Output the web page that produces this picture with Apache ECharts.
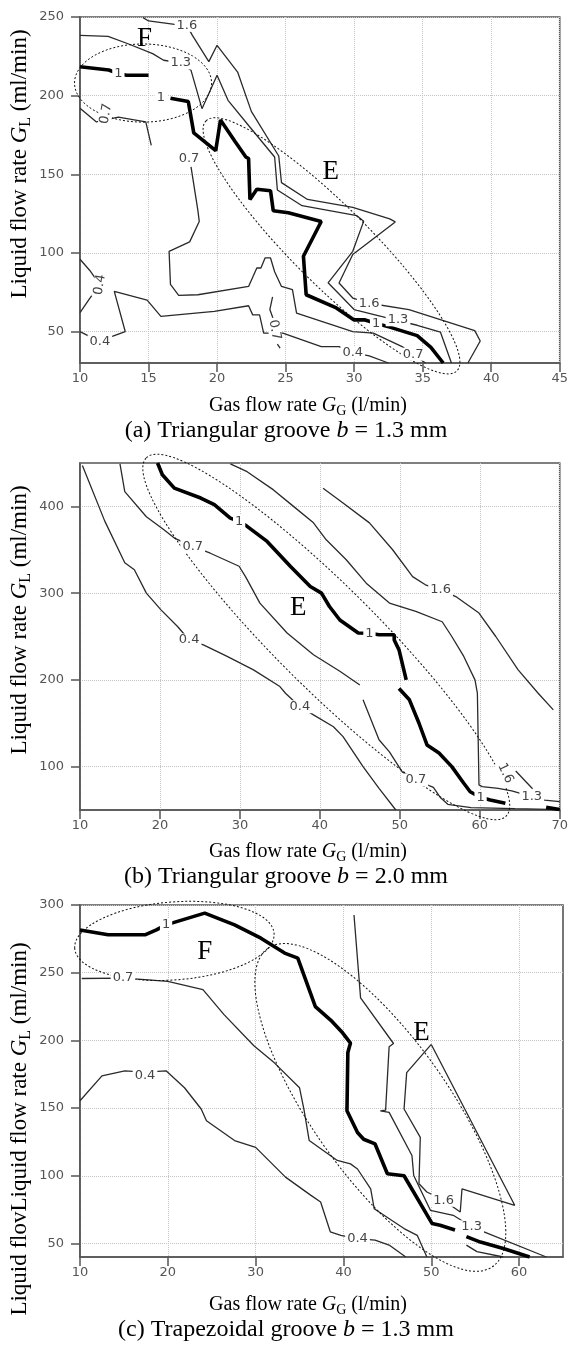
<!DOCTYPE html>
<html lang="en">
  <head>
    <meta charset="UTF-8" />
    <title>Contour maps</title>
    <script src="https://cdn.jsdelivr.net/npm/echarts@6/dist/echarts.min.js"></script>
    <style>
      html, body { margin: 0; padding: 0; background: #fff; }
      #main { width: 571px; height: 1345px; }
    </style>
  </head>
  <body>
    <div id="main"></div>
    <script type="text/javascript">
      // ---------- (a) Triangular groove b = 1.3 mm ----------
      var aXTicks = [10, 15, 20, 25, 30, 35, 40, 45];
      var aYTicks = [50, 100, 150, 200, 250];
      var aC04 = [
        [[10,96],[10.7,89],[11.45,79.8],[10.7,71],[10,62]],
        [[10,50],[11.45,43.6],[12.3,46.8],[13.3,50],[12.5,75.5],[14.9,70],[15.9,59.6],[19.8,62.8],[22.3,66.4],[22.6,60.6],[23.1,60.6],[23.4,49],[24.8,49],[27.6,40.4],[28.9,40.4],[29.9,36.6],[31.1,34.5],[32.5,30]]
      ];
      var aC07 = [
        [[10,192],[11.2,183.3],[12.8,186.4],[14.8,183.3],[15.2,168.4]],
        [[18.1,154.7],[18.6,127],[18.7,120],[18,107],[16.5,101],[16.6,80],[17.2,73],[18.6,73.4],[22.3,78.7],[22.9,90.4],[23.2,90.4],[23.5,96.8],[23.9,96.8],[24.2,88],[24.7,78.7],[25.5,76.6],[25.8,61.7],[29.9,50],[31.4,49],[33.5,40.4],[34.3,35.6],[35.2,30]],
        [[24.05,72],[23.85,64],[24.1,58]],
        [[24.4,42],[24.6,39.5]]
      ];
      var aC10 = [
        [[10,218.4],[12.1,216.3],[12.8,214],[13.4,213],[15,213]],
        [[16.6,198.4],[17.9,196.3],[18.3,176.3],[19.9,165],[20.25,184.5],[21.3,171],[22.1,161],[22.3,160],[22.4,134],[22.9,140.5],[23.9,139.5],[24.1,126.8],[25.2,125.5],[27.6,120],[26.3,97.9],[26.5,73.4],[28.7,65],[30,57.4],[30.8,57.4],[31.7,55],[32.6,52.8],[34.6,47.4],[35.6,40],[36.5,30]]
      ];
      var aC13 = [
        [[10,238.3],[12.05,237.7],[13.5,233],[15.3,226.7],[16.1,222.5],[17.35,220.8],[18.1,216.1],[18.9,191.7],[20,212.9],[20.8,197],[22.3,181],[24.2,161],[24.4,140],[26.2,130],[30.2,123.7],[30.7,120.2],[29.9,101],[28.1,81],[30,64],[33.2,57],[34.6,54],[36.3,49.6],[37.1,30]]
      ];
      var aC16 = [
        [[14.6,249.6],[15,247.5],[16.9,245.3],[17.8,244.7],[18.2,238.3],[19.4,221.6],[20,232],[21.5,215],[22.5,190],[24.5,161.6],[24.7,144.7],[26.6,134],[29.9,129],[32.6,121.6],[33,119.7],[29.9,99],[28.9,80.9],[29.9,71.3],[31.1,68],[34,64],[38.8,50.6],[39.2,44],[38.3,30]]
      ];
      // [text, x, y, rotation in degrees]
      var aLabels = [
        ['1.6',17.8,244.7,0], ['1.3',17.35,220.8,0], ['1',12.8,214,0], ['1',15.9,198.7,0],
        ['0.7',11.9,188.5,80], ['0.7',17.95,160,0], ['0.4',11.45,79.8,80], ['0.4',11.45,43.6,0],
        ['0.7',24.2,51,-80], ['0.4',29.9,36.6,0], ['1.6',31.1,68,0], ['1.3',33.2,57.5,0],
        ['1',31.6,55,0], ['0.7',34.3,35.6,0]
      ];
      var aLetters = [['F',14.7,236], ['E',28.3,151.5]];
      // [x1, y1, x2, y2, minor/major]
      var aEllipses = [[9.6,208,19.6,208,0.57], [19.2,184,37.5,25,0.22]];

      // ---------- (b) Triangular groove b = 2.0 mm ----------
      var bXTicks = [10, 20, 30, 40, 50, 60, 70];
      var bYTicks = [100, 200, 300, 400];
      var bC04 = [
        [[10.3,447],[13.1,383],[15.6,335],[16.8,327],[18.3,300],[20.1,281],[22.2,261.5],[23.65,246],[25.5,240],[28.4,227],[31.7,211.5],[35,192.3],[35.7,184.6],[37.5,169],[39.2,159.6],[41.7,146],[42.9,134.6],[45.4,100],[47.4,75],[49.5,50]]
      ];
      var bC07 = [
        [[15,449],[15.6,417],[18.3,388],[20.5,373],[21.8,363.5],[24.1,353.8],[26.3,346],[29.9,331],[30.7,319],[32.5,288.5],[35.9,254],[39.2,229],[42.5,210],[45,194]],
        [[45.4,177],[47.4,131],[48.7,117],[50.3,94],[52,84.6],[54.2,76],[55.1,64],[56,56.6],[58.9,52.7],[64.4,51.5],[70,50.5]]
      ];
      var bC10 = [
        [[19.7,450],[20.3,436.5],[21.8,421],[25.1,409.6],[26.8,402],[28.8,386.5],[29.9,382.7],[30.9,377],[33.4,359.6],[36.3,331],[38.8,307.7],[40.2,300],[41.2,284.6],[42.5,269],[44.8,254],[46.2,253.8],[47.4,252],[49.3,252],[49.3,246],[49.9,234.6],[50.8,200]],
        [[49.9,190],[51.2,177],[52.4,150],[53.4,125],[54.9,115.6],[56.5,100],[58,80.8],[58.8,71],[60.1,64.6],[61.3,61.5],[63.2,57.7]],
        [[68.3,53],[70,50.5]]
      ];
      var bC13 = [
        [[28.8,449],[30.9,440],[34.2,419],[36.7,400],[39.2,381],[40.8,361.5],[43.3,338.5],[45.8,311.5],[48.7,288.5],[52,279],[55.3,267],[56.5,250],[58,227],[59.4,200],[59.7,184.6],[59.9,79],[60.3,77],[62.3,75],[64,72],[66.5,65.4],[68.1,61.5],[70,59.6]]
      ];
      var bC16 = [
        [[40.4,421],[42.9,404],[46.2,381],[49.1,350],[51.6,319],[53.2,309.6],[55.1,303.8],[57,296],[59.9,277],[62,250],[64.8,211.5],[67.3,184.6],[69.2,165.4]],
        [[64.5,95],[66.6,74.5]]
      ];
      var bLabels = [
        ['1',29.9,382.7,0], ['0.7',24.1,353.8,0], ['1.6',55.1,303.8,0], ['0.4',23.65,246,0],
        ['1',46.2,253.8,0], ['0.4',37.5,169,0], ['0.7',52,84.6,0], ['1.6',63.2,92.3,-65],
        ['1',60.1,64.6,0], ['1.3',66.5,65.4,0]
      ];
      var bLetters = [['E',37.3,283]];
      var bEllipses = [[18.3,456,63.3,43,0.2]];

      // ---------- (c) Trapezoidal groove b = 1.3 mm ----------
      var cXTicks = [10, 20, 30, 40, 50, 60];
      var cYTicks = [50, 100, 150, 200, 250, 300];
      var cC04 = [
        [[10,155.4],[12.5,173.8],[15.1,177.5],[17.4,176.5],[19.8,177.5],[21.9,165],[23.8,149.3],[24.4,140.7],[27.6,126],[30,121],[33.4,99],[36.3,85.5],[37.4,80.6],[38.5,58.6],[39.7,56],[41.6,53.6],[43.6,52.5],[45.2,48.8],[47.1,40]]
      ];
      var cC07 = [
        [[10.2,245.7],[14.9,246],[16.6,245.3],[20,243.6],[24,237.5],[26.4,219],[29.8,196],[32.1,183.6],[35,165],[35.5,149],[36.1,126],[39.3,111.3],[40.8,108.8],[41.6,105],[43.1,90.4],[43.5,75.7],[46.9,61],[48.4,56],[49.5,40]],
        [[54,48.8],[55.2,44],[58.2,40]]
      ];
      var cC10 = [
        [[10,281.6],[13.2,278],[17.4,278],[18.7,281.6],[19.8,285.3],[21,287.7],[24.2,294],[27.6,285.3],[30.6,275.5],[33.3,264.5],[34.8,260.8],[36.8,225],[38.7,214],[39.9,205.6],[40.8,198],[40.5,191],[40.4,148],[41.6,132],[42.3,127],[43.6,123.5],[45,101.5],[46.9,100],[50.1,64.7],[51,63.5],[52.7,60]],
        [[54,55],[55.6,51],[58.2,46.3],[61.2,40]]
      ];
      var cC13 = [
        [[41.2,292.6],[41.95,231.4],[45.7,197.7],[45.2,195.3],[44.8,148.5],[44.2,148],[45.2,146.8],[47.8,115],[48,100.2],[49.9,74.5],[52.5,70.8],[54.6,62.3],[56,58.6],[63.1,40]]
      ];
      var cC16 = [
        [[50,197],[59.5,78.2],[53.5,90.4],[53.3,73.3],[51.4,81.9],[49.5,88],[48.6,94.1],[48.75,128.4],[46.9,149.3],[47.2,176.2],[50,197]]
      ];
      var cLabels = [
        ['1',19.8,285.3,0], ['0.7',14.9,246,0], ['0.4',17.4,174.3,0], ['1.6',51.4,81.9,0],
        ['1.3',54.6,62.3,0], ['0.4',41.6,53.6,0]
      ];
      var cLetters = [['F',24.2,265.7], ['E',48.9,205.6]];
      var cEllipses = [[9.4,268,32.1,279,0.39], [31.4,268,57,33,0.35]];

      var panels = [
        { x: [10, 45], y: [30, 250], xt: aXTicks, yt: aYTicks, levels: [aC04, aC07, aC10, aC13, aC16], labels: aLabels, letters: aLetters, ellipses: aEllipses },
        { x: [10, 70], y: [50, 450], xt: bXTicks, yt: bYTicks, levels: [bC04, bC07, bC10, bC13, bC16], labels: bLabels, letters: bLetters, ellipses: bEllipses },
        { x: [10, 65], y: [40, 300], xt: cXTicks, yt: cYTicks, levels: [cC04, cC07, cC10, cC13, cC16], labels: cLabels, letters: cLetters, ellipses: cEllipses }
      ];

      var gridBoxes = [
        { top: 17, height: 346 },
        { top: 463, height: 347 },
        { top: 905, height: 352 }
      ];

      var tickFont = { color: "#555", fontSize: 13, fontFamily: "DejaVu Sans" };
      var frameColor = "#555";

      function axis(gi, range, ticks, isX) {
        return {
          type: "value",
          gridIndex: gi,
          min: range[0],
          max: range[1],
          axisLine: { show: true, onZero: false, lineStyle: { color: frameColor, width: 1.6 } },
          axisTick: { show: true, inside: false, length: 9, customValues: ticks, lineStyle: { color: frameColor, width: 1.5 } },
          axisLabel: Object.assign({ customValues: ticks, margin: isX ? 9 : 16 }, tickFont),
          splitLine: { show: true, lineStyle: { color: "#c4c4c4", type: "dotted", width: 1 } }
        };
      }

      var grid = [], xAxis = [], yAxis = [], series = [];
      panels.forEach(function (p, gi) {
        grid.push({
          left: 80, right: 8, top: gridBoxes[gi].top, height: gridBoxes[gi].height,
          show: true, borderColor: frameColor, borderWidth: 1.6
        });
        xAxis.push(axis(gi, p.x, p.xt, true));
        yAxis.push(axis(gi, p.y, p.yt, false));

        // contour lines: levels 0.4, 0.7, 1 (bold), 1.3, 1.6
        p.levels.forEach(function (segs, li) {
          var bold = li === 2;
          segs.forEach(function (seg) {
            series.push({
              type: "line",
              xAxisIndex: gi,
              yAxisIndex: gi,
              data: seg,
              symbol: "none",
              silent: true,
              z: bold ? 3 : 2,
              lineStyle: { color: bold ? "#000" : "#2a2a2a", width: bold ? 3.6 : 1.3 }
            });
          });
        });

        // dashed ellipses E / F
        series.push({
          type: "custom",
          xAxisIndex: gi,
          yAxisIndex: gi,
          clip: false,
          silent: true,
          z: 4,
          data: p.ellipses,
          renderItem: function (params, api) {
            var p1 = api.coord([api.value(0), api.value(1)]);
            var p2 = api.coord([api.value(2), api.value(3)]);
            var dx = p2[0] - p1[0], dy = p2[1] - p1[1];
            var a = Math.sqrt(dx * dx + dy * dy) / 2;
            return {
              type: "ellipse",
              x: (p1[0] + p2[0]) / 2,
              y: (p1[1] + p2[1]) / 2,
              rotation: -Math.atan2(dy, dx),
              shape: { cx: 0, cy: 0, rx: a, ry: a * api.value(4) },
              style: { fill: "none", stroke: "#111", lineWidth: 1, lineDash: [2, 2] }
            };
          }
        });

        // contour value labels
        var labs = p.labels;
        series.push({
          type: "custom",
          xAxisIndex: gi,
          yAxisIndex: gi,
          clip: false,
          silent: true,
          z: 6,
          data: labs.map(function (l) { return [l[1], l[2]]; }),
          renderItem: function (params, api) {
            var l = labs[params.dataIndex];
            var pt = api.coord([api.value(0), api.value(1)]);
            return {
              type: "text",
              x: pt[0],
              y: pt[1],
              rotation: (l[3] * Math.PI) / 180,
              style: {
                text: l[0], fill: "#444", font: '13px "DejaVu Sans"',
                align: "center", verticalAlign: "middle",
                backgroundColor: "#fff", padding: [0, 2]
              }
            };
          }
        });

        // region letters
        var lets = p.letters;
        series.push({
          type: "custom",
          xAxisIndex: gi,
          yAxisIndex: gi,
          clip: false,
          silent: true,
          z: 7,
          data: lets.map(function (l) { return [l[1], l[2]]; }),
          renderItem: function (params, api) {
            var pt = api.coord([api.value(0), api.value(1)]);
            return {
              type: "text",
              x: pt[0],
              y: pt[1],
              style: {
                text: lets[params.dataIndex][0], fill: "#000",
                font: '27px "Liberation Serif"', align: "center", verticalAlign: "middle"
              }
            };
          }
        });
      });

      // axis titles and captions (Times-like serif)
      var serif = "Liberation Serif";
      function rich(size) {
        return {
          i: { fontFamily: serif, fontSize: size, fontStyle: "italic", fill: "#000", lineHeight: size + 4 },
          s: { fontFamily: serif, fontSize: Math.round(size * 0.68), fill: "#000", verticalAlign: "bottom", lineHeight: Math.round(size * 0.68) },
          n: { fontFamily: serif, fontSize: size, fill: "#000", lineHeight: size + 4 }
        };
      }
      function xTitle(y) {
        return {
          type: "text", x: 308, y: y, silent: true,
          style: { text: "{n|Gas flow rate }{i|G}{s|G}{n| (l/min)}", rich: rich(20), align: "center", verticalAlign: "middle" }
        };
      }
      function yTitle(cy, prefix) {
        return {
          type: "text", x: 20, y: cy, rotation: Math.PI / 2, silent: true,
          style: { text: "{n|" + prefix + "Liquid flow rate }{i|G}{s|L}{n| (ml/min)}", rich: rich(23), align: "center", verticalAlign: "middle" }
        };
      }
      function caption(y, tag, grooveName, b) {
        return {
          type: "text", x: 286, y: y, silent: true,
          style: { text: "{n|(" + tag + ") " + grooveName + " groove }{i|b}{n| = " + b + " mm}", rich: rich(24), align: "center", verticalAlign: "middle" }
        };
      }

      var chart = echarts.init(document.getElementById("main"));
      chart.setOption({
        animation: false,
        backgroundColor: "#fff",
        grid: grid,
        xAxis: xAxis,
        yAxis: yAxis,
        series: series,
        graphic: [
          yTitle(164, ""), xTitle(406), caption(431, "a", "Triangular", "1.3"),
          yTitle(620, ""), xTitle(852), caption(877, "b", "Triangular", "2.0"),
          yTitle(1129, "Liquid flov"), xTitle(1305), caption(1330, "c", "Trapezoidal", "1.3")
        ]
      });
      window.addEventListener("resize", function () {
        chart.resize();
      });
    </script>
  </body>
</html>
